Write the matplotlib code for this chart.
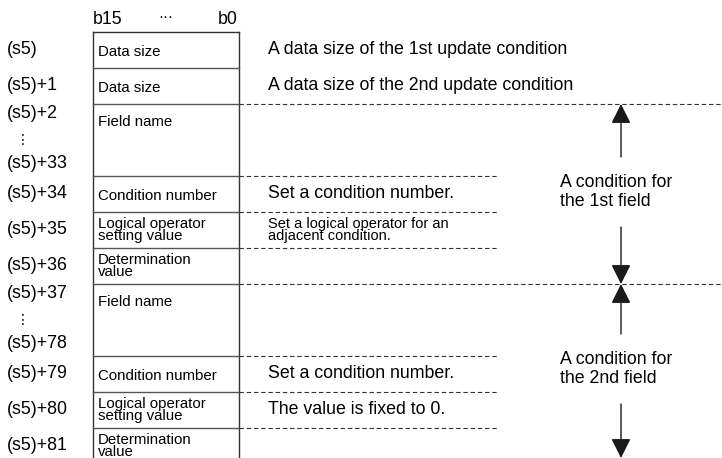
import numpy as np
import matplotlib.pyplot as plt

plt.rcParams['font.family'] = ['Liberation Sans', 'DejaVu Sans']

# ---------------------------------------------------------
# Data: device map of (s5)
# ---------------------------------------------------------
row_units = [1, 1, 2, 1, 1, 1, 2, 1, 1, 1]   # field name rows take two slots
cell_texts = ["Data size", "Data size", "Field name", "Condition number",
              "Logical operator\nsetting value", "Determination\nvalue",
              "Field name", "Condition number",
              "Logical operator\nsetting value", "Determination\nvalue"]
descriptions = ["A data size of the 1st update condition",
                "A data size of the 2nd update condition",
                "", "Set a condition number.",
                "Set a logical operator for an\nadjacent condition.", "",
                "", "Set a condition number.",
                "The value is fixed to 0.", ""]
addr_single = ["(s5)", "(s5)+1", None, "(s5)+34", "(s5)+35", "(s5)+36",
               None, "(s5)+79", "(s5)+80", "(s5)+81"]
addr_range = {2: ("(s5)+2", "(s5)+33"), 6: ("(s5)+37", "(s5)+78")}
groups = [(2, 5, "A condition for\nthe 1st field"),
          (6, 9, "A condition for\nthe 2nd field")]

# ---------------------------------------------------------
# Layout (pixels)
# ---------------------------------------------------------
W, H = 722, 458
top, unit = 32, 36
box_l, box_r = 93, 239
desc_x, dash_end = 268, 498
arrow_x, group_text_x = 621, 560

fs_addr, fs_cell, fs_desc, fs_small = 12.8, 10.8, 12.8, 10.5

edges = top + unit * np.concatenate([[0], np.cumsum(row_units)])

fig = plt.figure(figsize=(W / 100, H / 100), dpi=100)
ax = fig.add_axes([0, 0, 1, 1])
ax.set_xlim(0, W)
ax.set_ylim(H, 0)
ax.axis('off')

# header
ax.text(box_l, 20, "b15", fontsize=12.8, va='center', ha='left')
ax.text(166, 17, "···", fontsize=11, va='center', ha='center')
ax.text(box_r - 1, 20, "b0", fontsize=12.8, va='center', ha='right')

# outer box
ax.plot([box_l, box_l], [edges[0], H + 2], color='#333333', lw=1)
ax.plot([box_r, box_r], [edges[0], H + 2], color='#333333', lw=1)
ax.plot([box_l, box_r], [edges[0], edges[0]], color='#333333', lw=1)

group_starts = [g[0] for g in groups]
for i in range(len(row_units)):
    y0, y1 = edges[i], edges[i + 1]
    if i > 0:
        ax.plot([box_l, box_r], [y0, y0], color='#555555', lw=1)
        end = W if i in group_starts else dash_end
        if i >= 2:
            ax.plot([box_r, end], [y0, y0], color='#333333', lw=0.8,
                    ls=(0, (4, 2.5)))
    two_line = "\n" in cell_texts[i]
    if row_units[i] > 1:
        ax.text(box_l + 5, y0 + 18, cell_texts[i], fontsize=fs_cell,
                va='center', ha='left')
    else:
        ax.text(box_l + 5, (y0 + y1) / 2 + (0 if two_line else 2),
                cell_texts[i], fontsize=fs_cell, va='center', ha='left',
                linespacing=0.88)
    if descriptions[i]:
        two = "\n" in descriptions[i]
        ax.text(desc_x, (y0 + y1) / 2,
                descriptions[i], fontsize=fs_small if two else fs_desc,
                va='center', ha='left', linespacing=0.88)
    if addr_single[i] is not None:
        ax.text(7, (y0 + y1) / 2, addr_single[i], fontsize=fs_addr,
                va='center', ha='left')

# address ranges
for i, (a, b) in addr_range.items():
    y0 = edges[i]
    ax.text(7, y0 + 9, a, fontsize=fs_addr, va='center', ha='left')
    ax.text(16, y0 + 36, "⋮", fontsize=10, va='center', ha='left')
    ax.text(7, y0 + 60, b, fontsize=fs_addr, va='center', ha='left')

# group arrows
for s, e, label in groups:
    y_top = edges[s]
    y_bot = min(edges[e + 1], H)
    mid = (y_top + y_bot) / 2
    ax.annotate("", xy=(arrow_x, y_top), xytext=(arrow_x, mid - 37),
                arrowprops=dict(arrowstyle='-|>', color='#1a1a1a', lw=1,
                                mutation_scale=30, shrinkA=0, shrinkB=0))
    ax.annotate("", xy=(arrow_x, y_bot), xytext=(arrow_x, mid + 33),
                arrowprops=dict(arrowstyle='-|>', color='#1a1a1a', lw=1,
                                mutation_scale=30, shrinkA=0, shrinkB=0))
    ax.text(group_text_x, mid - 2, label, fontsize=fs_desc, va='center',
            ha='left', linespacing=1.1)

fig.savefig("out.png", dpi=100)
